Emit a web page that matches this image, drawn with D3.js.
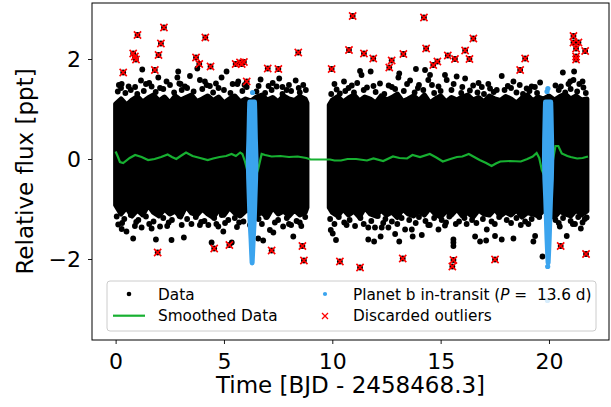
<!DOCTYPE html>
<html>
<head>
<meta charset="utf-8">
<script src="https://cdn.jsdelivr.net/npm/d3@7"></script>
<style>
  body { margin: 0; background: #fff; }
  svg { font-family: "DejaVu Sans", sans-serif; }
</style>
</head>
<body>
<svg id="chart" width="611" height="407"></svg>
<script>
"use strict";

/*
 * Light curve data (time in days, flux in ppt)
 */

// dense part of the cloud: envelope per observing segment
var core1T  = [0, 0.25, 0.5, 0.75, 1, 1.25, 1.5, 1.75, 2, 2.25, 2.5, 2.75, 3, 3.25, 3.5, 3.75, 4, 4.25, 4.5,
               4.75, 5, 5.25, 5.5, 5.75, 6, 6.25, 6.5, 6.75, 7, 7.25, 7.5, 7.75, 8, 8.25, 8.5, 8.75, 8.83];
var core1Hi = [1.1, 1.2, 1.08, 1.18, 1.25, 1.14, 1.22, 1.28, 1.16, 1.24, 1.12, 1.26, 1.18, 1.23, 1.28, 1.15, 1.2, 1.26, 1.17,
               1.24, 1.12, 1.2, 1.26, 1.14, 1.2, 1.16, 1.24, 1.28, 1.18, 1.23, 1.14, 1.26, 1.2, 1.17, 1.25, 1.2, 1.12];
var core1Lo = [-0.92, -1.1, -0.97, -1.14, -1.02, -1.12, -0.92, -1.07, -1.14, -1.0, -1.1, -1.04, -1.16, -0.94, -1.08, -1.12, -1.0, -1.1, -1.17,
               -1.02, -1.12, -0.97, -1.08, -1.14, -1.04, -1.0, -1.12, -1.07, -1.16, -0.97, -1.1, -1.04, -1.14, -1.02, -1.12, -1.07, -0.97];

var core2T  = [9.86, 10, 10.25, 10.5, 10.75, 11, 11.25, 11.5, 11.75, 12, 12.25, 12.5, 12.75, 13, 13.25, 13.5, 13.75,
               14, 14.25, 14.5, 14.75, 15, 15.25, 15.5, 15.75, 16, 16.25, 16.5, 16.75, 17, 17.25, 17.5, 17.75,
               18, 18.25, 18.5, 18.75, 19, 19.25, 19.5, 19.75, 20, 20.25, 20.5, 20.75, 21, 21.25, 21.5, 21.75];
var core2Hi = [1.08, 1.18, 1.25, 1.14, 1.22, 1.28, 1.16, 1.24, 1.2, 1.12, 1.26, 1.18, 1.23, 1.3, 1.15, 1.2, 1.26,
               1.17, 1.28, 1.12, 1.2, 1.26, 1.14, 1.23, 1.18, 1.24, 1.28, 1.18, 1.23, 1.14, 1.26, 1.2, 1.17,
               1.25, 1.2, 1.12, 1.22, 1.28, 1.16, 1.24, 1.2, 1.26, 1.18, 1.25, 1.3, 1.2, 1.26, 1.18, 1.2];
var core2Lo = [-0.97, -1.07, -1.14, -1.0, -1.12, -1.04, -1.16, -0.97, -1.1, -1.14, -1.02, -1.12, -1.06, -1.17, -1.0, -1.1, -1.14,
               -1.04, -1.12, -0.98, -1.1, -1.16, -1.04, -1.12, -1.0, -1.14, -1.07, -1.16, -1.02, -1.1, -1.12, -1.0, -1.14,
               -1.06, -1.12, -1.02, -1.16, -1.07, -1.1, -1.14, -1.02, -1.12, -1.17, -1.04, -1.1, -1.14, -1.02, -1.12, -1.04];

// ragged fringe just outside the dense band
var fringePts = [
  [0.1, 1.35], [0.45, 1.32], [0.7, 1.38], [1.0, 1.3], [1.3, 1.36], [1.85, 1.34], [2.2, 1.4], [2.7, 1.33], [3.05, 1.38],
  [3.6, 1.35], [4.0, 1.4], [4.5, 1.33], [5.0, 1.38], [5.3, 1.32], [5.85, 1.36], [6.5, 1.35], [6.9, 1.32], [7.2, 1.38],
  [7.7, 1.3], [8.1, 1.36], [8.5, 1.33], [8.78, 1.38], [9.95, 1.3], [10.6, 1.36], [11.0, 1.33], [11.45, 1.38], [12.0, 1.34],
  [12.4, 1.3], [12.9, 1.4], [13.3, 1.36], [13.8, 1.33], [14.2, 1.38], [14.7, 1.32], [15.0, 1.36], [15.5, 1.38], [15.95, 1.32],
  [16.35, 1.37], [16.7, 1.33], [17.0, 1.3], [17.45, 1.34], [17.95, 1.38], [18.5, 1.33], [18.8, 1.3], [19.1, 1.36],
  [19.45, 1.32], [20.45, 1.38], [20.75, 1.33], [21.0, 1.4], [21.3, 1.35], [21.7, 1.32],
  [0.15, 1.48], [0.9, 1.44], [1.55, 1.52], [2.05, 1.42], [2.35, 1.55], [3.0, 1.5], [3.3, 1.42], [4.2, 1.48], [4.75, 1.42],
  [5.4, 1.5], [5.95, 1.48], [6.6, 1.46], [7.25, 1.52], [7.7, 1.44], [8.45, 1.42], [10.1, 1.5], [10.75, 1.42], [11.15, 1.52],
  [11.9, 1.46], [12.75, 1.44], [13.45, 1.5], [13.95, 1.42], [14.6, 1.48], [15.6, 1.5], [16.0, 1.44], [16.75, 1.52],
  [17.2, 1.5], [18.25, 1.42], [18.65, 1.48], [19.35, 1.44], [20.55, 1.45], [20.9, 1.5], [21.55, 1.55],
  [0.05, -1.15], [0.4, -1.2], [0.7, -1.12], [1.05, -1.22], [1.4, -1.15], [1.75, -1.25], [2.2, -1.18], [2.6, -1.22],
  [2.95, -1.14], [3.3, -1.2], [3.7, -1.16], [4.1, -1.24], [4.55, -1.18], [4.9, -1.12], [5.2, -1.22], [5.5, -1.18],
  [5.9, -1.25], [6.6, -1.2], [6.95, -1.16], [7.5, -1.22], [7.9, -1.18], [8.35, -1.24], [8.75, -1.16], [9.9, -1.2],
  [10.3, -1.16], [10.8, -1.22], [11.3, -1.18], [11.8, -1.24], [12.1, -1.14], [12.45, -1.2], [12.75, -1.25], [13.2, -1.18],
  [13.55, -1.22], [14.0, -1.16], [14.3, -1.24], [14.7, -1.18], [15.05, -1.22], [15.4, -1.15], [15.85, -1.25], [16.1, -1.18],
  [16.45, -1.22], [16.95, -1.2], [17.35, -1.25], [17.7, -1.16], [18.05, -1.22], [18.5, -1.18], [18.9, -1.25], [19.2, -1.2],
  [19.55, -1.16], [20.3, -1.22], [20.65, -1.18], [21.0, -1.24], [21.35, -1.16], [21.65, -1.2],
  [0.3, -1.28], [0.95, -1.26], [1.55, -1.3], [2.45, -1.27], [3.05, -1.32], [3.95, -1.26], [4.65, -1.3], [5.05, -1.28],
  [5.7, -1.27], [6.75, -1.3], [7.35, -1.27], [8.1, -1.32], [8.5, -1.27], [10.1, -1.3], [10.55, -1.27], [11.45, -1.3],
  [12.35, -1.28], [13.0, -1.3], [13.85, -1.28], [14.5, -1.32], [15.25, -1.27], [15.7, -1.3], [16.65, -1.28], [17.5, -1.3],
  [18.25, -1.28], [19.05, -1.3], [20.45, -1.28], [21.2, -1.3], [21.55, -1.27]
];

// individual data points further out
var dataPts = [
  [1.23, 1.79], [1.17, 1.57], [0.25, 1.42], [0.28, 1.5], [2.89, 1.75], [2.85, 1.63], [1.97, 1.63], [3.43, 1.66],
  [3.89, 1.58], [4.12, 1.55], [3.77, 1.81], [5.12, 1.75], [4.89, 1.63], [4.63, 1.51], [2.94, 1.51], [2.51, 1.48],
  [1.66, 1.45], [5.66, 1.55], [5.62, 1.5], [6.69, 1.59], [7.55, 1.61], [8.31, 1.57], [7.06, 1.46], [7.43, 1.45],
  [7.89, 1.38], [8.66, 1.48], [10.2, 1.39], [10.35, 1.31], [11.28, 1.76], [11.35, 1.68], [11.77, 1.75], [10.54, 1.55],
  [13.09, 1.71], [13.05, 1.63], [13.86, 1.8], [14.28, 1.78], [14.51, 1.68], [14.43, 1.58], [13.59, 1.57], [15.2, 1.68],
  [15.28, 1.58], [15.74, 1.65], [16.13, 1.61], [17.82, 1.66], [18.36, 1.55], [19.59, 1.53], [20.64, 1.73], [21.16, 1.75],
  [12.2, 1.51], [17.28, 1.41], [17.59, 1.38], [20.98, 1.55], [21.13, 1.58], [21.59, 1.43], [19.2, 1.45], [18.97, 1.41],
  [0.6, 1.45], [1.4, 1.5], [3.2, 1.45], [4.35, 1.46], [6.05, 1.44], [8.0, 1.48], [10.9, 1.47], [11.6, 1.43],
  [12.6, 1.47], [14.0, 1.48], [14.9, 1.45], [16.5, 1.47], [16.9, 1.44], [18.1, 1.46], [20.3, 1.47], [21.4, 1.5],
  [0.12, -1.31], [0.28, -1.4], [0.5, -1.45], [0.81, -1.59], [0.89, -1.34], [1.2, -1.37], [1.86, -1.61], [2.58, -1.62],
  [3.15, -1.57], [1.66, -1.39], [2.05, -1.35], [2.38, -1.34], [3.89, -1.32], [4.28, -1.32], [4.43, -1.67], [4.97, -1.45],
  [5.36, -1.67], [4.74, -1.35], [5.6, -1.36], [6.58, -1.59], [6.81, -1.63], [7.12, -1.42], [7.28, -1.47], [8.2, -1.55],
  [7.73, -1.35], [8.57, -1.34], [9.93, -1.42], [10.02, -1.49], [10.17, -1.62], [10.66, -1.32], [11.05, -1.34], [11.66, -1.37],
  [11.97, -1.37], [12.28, -1.37], [12.59, -1.37], [11.66, -1.61], [11.93, -1.65], [12.23, -1.55], [12.9, -1.5], [13.09, -1.65],
  [13.36, -1.41], [13.67, -1.41], [13.71, -1.55], [14.13, -1.52], [14.43, -1.32], [14.9, -1.41], [15.59, -1.61], [15.59, -1.67],
  [15.59, -1.74], [16.59, -1.55], [16.82, -1.65], [17.1, -1.63], [17.13, -1.41], [17.51, -1.54], [17.82, -1.61], [18.36, -1.59],
  [19.28, -1.65], [19.36, -1.54], [19.7, -1.95], [20.82, -1.54], [21.47, -1.39], [21.74, -1.17],
  [3.5, -1.3], [6.2, -1.32], [8.0, -1.3], [15.2, -1.33], [16.2, -1.3], [18.7, -1.32], [20.5, -1.35], [21.1, -1.3]
];

// discarded outliers
var outlierPts = [
  [0.35, 1.73], [1.01, 2.48], [0.81, 2.11], [0.89, 2.05], [0.94, 1.99], [2.23, 2.63], [2.09, 2.31], [1.98, 2.08],
  [1.81, 1.78], [3.71, 2.03], [3.86, 1.9], [4.14, 2.43], [4.38, 1.85], [5.54, 1.9], [5.74, 1.93], [5.92, 1.94],
  [5.82, 1.9], [6.05, 1.55], [7.02, 1.81], [7.51, 1.8], [8.43, 2.13], [9.97, 1.8], [10.77, 2.18], [10.94, 2.86],
  [11.46, 2.11], [11.89, 2.01], [12.74, 1.97], [12.63, 1.83], [13.28, 2.1], [14.23, 2.83], [14.33, 2.21], [14.66, 1.88],
  [14.85, 1.95], [15.33, 2.07], [15.66, 2.0], [16.13, 2.17], [16.33, 2.0], [16.51, 2.41], [18.9, 2.01], [18.67, 1.78],
  [21.13, 2.46], [21.13, 2.33], [21.36, 2.33], [21.25, 2.21], [21.67, 2.16], [21.25, 2.05], [21.25, 1.99],
  [1.94, -1.87], [4.55, -1.79], [5.25, -1.72], [7.2, -1.83], [8.62, -1.74], [8.69, -2.03], [10.35, -2.05], [11.28, -2.17],
  [13.25, -1.99], [15.59, -2.02], [15.54, -2.15], [17.51, -2.01], [20.54, -1.74], [21.71, -1.9]
];

// planet b in-transit points: two transits, column profile
var transitMid   = [6.3, 19.96];
var transitLevel = [1.14, 1.0, 0.8, 0.4, 0.0, -0.4, -0.8, -1.2, -1.6, -1.9, -2.08];
var transitHalf1 = [0.11, 0.12, 0.13, 0.15, 0.18, 0.16, 0.13, 0.1, 0.05, 0.02, 0.0];
var transitHalf2 = [0.12, 0.13, 0.14, 0.16, 0.17, 0.15, 0.11, 0.08, 0.05, 0.02, 0.0];
var transitPts   = [[6.32, 1.33], [19.95, 1.41], [19.91, 1.35], [19.94, -2.15], [19.93, -2.83]];

// smoothed light curve
var smoothT = [0, 0.1, 0.2, 0.35, 0.65, 0.9, 1.2, 1.5, 1.8, 2.1, 2.4, 2.6, 2.8, 3.0, 3.25, 3.55, 3.9, 4.25, 4.5, 4.8,
               5.1, 5.35, 5.55, 5.75, 5.85, 5.97, 6.12, 6.3, 6.5, 6.58, 6.74, 6.9, 7.2, 7.6, 8.0, 8.4, 8.8, 9.0, 9.9,
               10.1, 10.4, 10.7, 11.1, 11.6, 11.9, 12.35, 12.8, 13.1, 13.45, 13.7, 14.05, 14.5, 14.8, 15.1, 15.45,
               15.75, 16.0, 16.3, 16.55, 16.8, 17.1, 17.35, 17.55, 17.75, 18.2, 18.7, 19.0, 19.25, 19.43, 19.55,
               19.67, 19.9, 20.15, 20.3, 20.43, 20.59, 20.85, 21.0, 21.3, 21.55, 21.8];
var smoothV = [0.15, 0.05, -0.06, -0.08, 0.02, 0.08, 0.04, -0.02, 0.0, 0.04, 0.09, 0.04, 0.0, 0.06, 0.13, 0.06,
               0.02, -0.02, 0.01, 0.04, 0.06, 0.1, 0.06, 0.13, 0.1, -0.05, -0.3, -0.5, -0.3, -0.2, 0.1, 0.08, 0.05,
               0.06, 0.04, 0.05, 0.02, -0.01, -0.01, -0.03, -0.03, 0.0, 0.0, -0.03, 0.01, -0.04, 0.05, 0.02, 0.01,
               0.08, 0.04, 0.1, 0.03, -0.05, 0.0, 0.04, 0.05, 0.1, 0.04, -0.02, -0.08, -0.14, -0.09, -0.05, -0.04,
               -0.05, 0.0, 0.05, 0.12, 0.02, -0.22, -0.45, -0.1, 0.26, 0.26, 0.11, 0.06, 0.04, 0.01, 0.02, 0.05];

var xTicks = [0, 5, 10, 15, 20];
var yTicks = [-2, 0, 2];

/*
 * Draw
 */
var svg = d3.select("#chart");
var margin = {top: 3, right: 2, bottom: 67, left: 92};
var width = 611 - margin.left - margin.right;
var height = 407 - margin.top - margin.bottom;

var x = d3.scaleLinear().domain([-1.09, 22.77]).range([0, width]);
var y = d3.scaleLinear().domain([-3.62, 3.12]).range([height, 0]);

var g = svg.append("g")
    .attr("transform", "translate(" + margin.left + "," + margin.top + ")");

g.append("clipPath").attr("id", "clip")
  .append("rect").attr("width", width).attr("height", height);

var plot = g.append("g").attr("clip-path", "url(#clip)");

// dense cloud
var band = d3.area()
    .x(function(d) { return x(d[0]); })
    .y1(function(d) { return y(d[1]); })
    .y0(function(d) { return y(d[2]); });

[[core1T, core1Hi, core1Lo], [core2T, core2Hi, core2Lo]].forEach(function(s) {
  plot.append("path")
      .datum(d3.zip(s[0], s[1], s[2]))
      .attr("d", band)
      .attr("fill", "#000")
      .attr("stroke", "#000")
      .attr("stroke-width", 5)
      .attr("stroke-linejoin", "round");
});

// loose data points (outliers also carry a data dot beneath the cross)
plot.selectAll(".dot")
    .data(fringePts.concat(dataPts, outlierPts))
  .enter().append("circle")
    .attr("class", "dot")
    .attr("cx", function(d) { return x(d[0]); })
    .attr("cy", function(d) { return y(d[1]); })
    .attr("r", 2.9)
    .attr("fill", "#000");

// smoothed curve
plot.append("path")
    .datum(d3.zip(smoothT, smoothV))
    .attr("d", d3.line().x(function(d) { return x(d[0]); }).y(function(d) { return y(d[1]); }))
    .attr("fill", "none")
    .attr("stroke", "#17b031")
    .attr("stroke-width", 2.2);

// in-transit columns
var blue = "#3ba4ee";
[transitHalf1, transitHalf2].forEach(function(half, i) {
  var c = transitMid[i];
  var col = d3.area()
      .y(function(d) { return y(d[0]); })
      .x0(function(d) { return x(c - d[1]); })
      .x1(function(d) { return x(c + d[1]); });
  plot.append("path")
      .datum(d3.zip(transitLevel, half))
      .attr("d", col)
      .attr("fill", blue)
      .attr("stroke", blue)
      .attr("stroke-width", 5)
      .attr("stroke-linejoin", "round");
});

plot.selectAll(".tdot")
    .data(transitPts)
  .enter().append("circle")
    .attr("class", "tdot")
    .attr("cx", function(d) { return x(d[0]); })
    .attr("cy", function(d) { return y(d[1]); })
    .attr("r", 2.6)
    .attr("fill", blue);

// outlier crosses
var cross = "M-3.6,-3.6L3.6,3.6M-3.6,3.6L3.6,-3.6";
plot.selectAll(".out")
    .data(outlierPts)
  .enter().append("path")
    .attr("class", "out")
    .attr("transform", function(d) { return "translate(" + x(d[0]) + "," + y(d[1]) + ")"; })
    .attr("d", cross)
    .attr("stroke", "#f00")
    .attr("stroke-width", 1.6);

// axes
var xAxis = g.append("g")
    .attr("transform", "translate(0," + height + ")")
    .call(d3.axisBottom(x).tickValues(xTicks).tickSize(4).tickPadding(9).tickSizeOuter(0));
var yAxis = g.append("g")
    .call(d3.axisLeft(y).tickValues(yTicks).tickFormat(d3.format("d")).tickSize(4).tickPadding(7).tickSizeOuter(0));

[xAxis, yAxis].forEach(function(a) {
  a.select(".domain").remove();
  a.selectAll("text").attr("font-size", 22).attr("font-family", "DejaVu Sans").attr("fill", "#000");
  a.selectAll("line").attr("stroke", "#000").attr("stroke-width", 0.9);
});

g.append("rect")
    .attr("width", width)
    .attr("height", height)
    .attr("fill", "none")
    .attr("stroke", "#000")
    .attr("stroke-width", 1);

// legend
var lg = g.append("g").attr("transform", "translate(15,278)");
lg.append("rect")
    .attr("width", 489)
    .attr("height", 50)
    .attr("rx", 3)
    .attr("fill", "#fff")
    .attr("fill-opacity", 0.8)
    .attr("stroke", "#ccc")
    .attr("stroke-width", 1);

lg.append("circle").attr("cx", 22).attr("cy", 13).attr("r", 2.3).attr("fill", "#000");
lg.append("line").attr("x1", 6).attr("x2", 38).attr("y1", 34.7).attr("y2", 34.7)
    .attr("stroke", "#17b031").attr("stroke-width", 2.2);
lg.append("circle").attr("cx", 218).attr("cy", 13).attr("r", 2.1).attr("fill", blue);
lg.append("path").attr("transform", "translate(218,35)").attr("d", "M-3,-3L3,3M-3,3L3,-3")
    .attr("stroke", "#f00").attr("stroke-width", 1.3);

var lt = lg.append("g").attr("font-size", 15.3).attr("fill", "#000");
lt.append("text").attr("x", 51).attr("y", 18.5).text("Data");
lt.append("text").attr("x", 51).attr("y", 40).text("Smoothed Data");
var pl = lt.append("text").attr("x", 246).attr("y", 18.5).style("white-space", "pre");
pl.append("tspan").text("Planet b in-transit (");
pl.append("tspan").attr("font-style", "italic").text("P");
pl.append("tspan").text(" =  13.6 d)");
lt.append("text").attr("x", 246).attr("y", 40).text("Discarded outliers");

// axis labels
svg.append("text")
    .attr("x", margin.left + width / 2)
    .attr("y", 393)
    .attr("text-anchor", "middle")
    .attr("font-size", 23)
    .text("Time [BJD - 2458468.3]");

svg.append("text")
    .attr("transform", "translate(33," + (margin.top + height / 2) + ") rotate(-90)")
    .attr("text-anchor", "middle")
    .attr("font-size", 23)
    .text("Relative flux [ppt]");
</script>
</body>
</html>
